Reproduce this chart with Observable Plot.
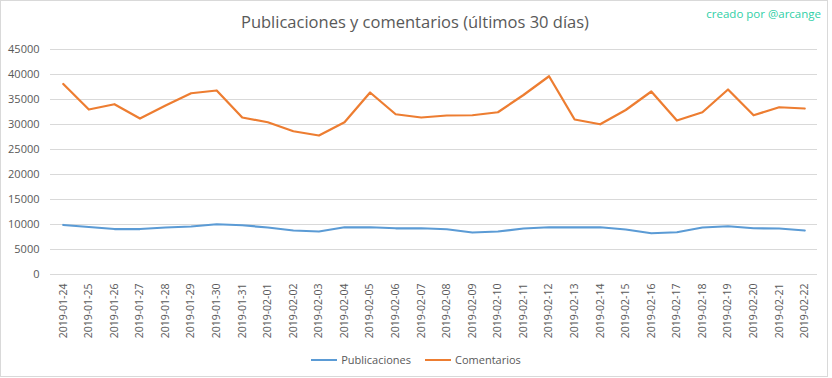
<!DOCTYPE html>
<html>
<head>
<meta charset="utf-8">
<script src="https://cdn.jsdelivr.net/npm/d3@7"></script>
<script src="https://cdn.jsdelivr.net/npm/@observablehq/plot@0.6"></script>
<style>
  html, body { margin: 0; padding: 0; background: #fff; }
  #wrap { position: relative; width: 832px; height: 378px; overflow: hidden;
          font-family: "Open Sans", sans-serif; color: #595959; }
  #frame { position: absolute; left: 0; top: 0; width: 826px; height: 375px; border: 1px solid #d9d9d9; }
  #title { position: absolute; left: 0; width: 830px; top: 10px; text-align: center; font-size: 16.5px; color: #595959; }
  #credit { position: absolute; right: 11px; top: 6px; font-size: 11.5px; color: #2fcfa6; }
  #chart { position: absolute; left: 0; top: 40px; }
  #legend { position: absolute; left: 0; width: 832px; top: 349px; text-align: center; font-size: 11px; color: #595959; }
  .item { display: inline-flex; align-items: center; margin: 0 7px; }
  .sw { display: inline-block; width: 26px; height: 2.5px; margin-right: 4px; }
</style>
</head>
<body>
<div id="wrap">
  <div id="frame"></div>
  <div id="title">Publicaciones y comentarios (últimos 30 días)</div>
  <div id="credit">creado por @arcange</div>
  <div id="chart"></div>
  <div id="legend"></div>
</div>
<script>
const dates = ["2019-01-24","2019-01-25","2019-01-26","2019-01-27","2019-01-28","2019-01-29","2019-01-30","2019-01-31",
  "2019-02-01","2019-02-02","2019-02-03","2019-02-04","2019-02-05","2019-02-06","2019-02-07","2019-02-08","2019-02-09",
  "2019-02-10","2019-02-11","2019-02-12","2019-02-13","2019-02-14","2019-02-15","2019-02-16","2019-02-17","2019-02-18",
  "2019-02-19","2019-02-20","2019-02-21","2019-02-22"];
const publicaciones = [9900,9500,9100,9100,9400,9600,10050,9850,9400,8800,8600,9450,9450,9250,9250,9050,8400,
  8600,9200,9450,9450,9450,9000,8250,8450,9400,9650,9250,9200,8800];
const comentarios = [38100,33000,34050,31200,33800,36250,36800,31400,30450,28650,27800,30450,36400,32050,31400,31800,31850,
  32450,35900,39650,31000,30050,32900,36600,30800,32450,37000,31850,33450,33200];
const yTicks = [0,5000,10000,15000,20000,25000,30000,35000,40000,45000];
const seriesNames = ["Publicaciones","Comentarios"];
const seriesColors = ["#5b9bd5","#ed7d31"];

const data = [];
dates.forEach((d, i) => {
  data.push({date: d, value: publicaciones[i], serie: seriesNames[0]});
  data.push({date: d, value: comentarios[i], serie: seriesNames[1]});
});

const chart = Plot.plot({
  width: 832,
  height: 312,
  marginTop: 9,
  marginBottom: 78,
  marginLeft: 50,
  marginRight: 15,
  style: {fontFamily: '"Open Sans", sans-serif', fontSize: "10.5px", color: "#595959", background: "transparent"},
  x: {type: "point", domain: dates, padding: 0.5, round: false, label: null},
  y: {domain: [0, 45000], label: null},
  color: {domain: seriesNames, range: seriesColors},
  marks: [
    Plot.gridY(yTicks, {stroke: "#d9d9d9", strokeOpacity: 1, strokeWidth: 1}),
    Plot.axisY(yTicks, {tickSize: 0, tickPadding: 11, tickFormat: d => String(d), fill: "#595959", fontSize: 11}),
    Plot.axisX({tickSize: 0, tickPadding: 9, tickRotate: -90, fill: "#595959", fontSize: 10.5}),
    Plot.lineY(data, {x: "date", y: "value", z: "serie", stroke: "serie", strokeWidth: 2.25, strokeLinejoin: "round", strokeLinecap: "round"})
  ]
});
document.getElementById("chart").appendChild(chart);

const legend = document.getElementById("legend");
seriesNames.forEach((n, i) => {
  const it = document.createElement("span");
  it.className = "item";
  const sw = document.createElement("span");
  sw.className = "sw";
  sw.style.background = seriesColors[i];
  it.appendChild(sw);
  it.appendChild(document.createTextNode(n));
  legend.appendChild(it);
});
</script>
</body>
</html>
